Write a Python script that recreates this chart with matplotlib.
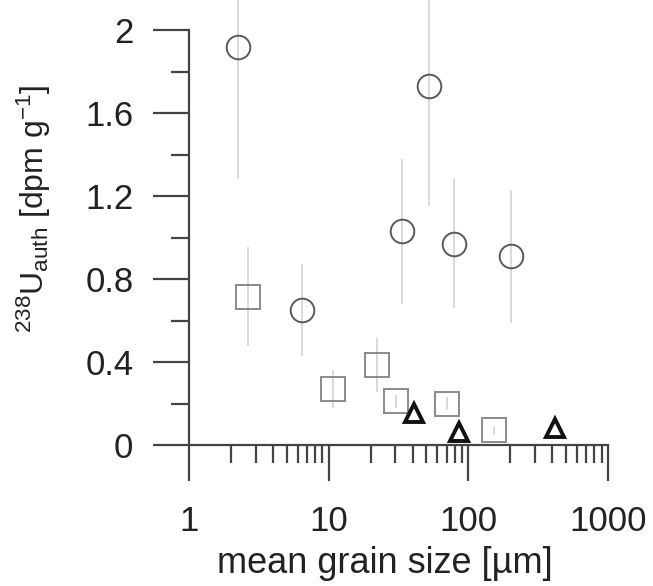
import matplotlib
matplotlib.use("Agg")
import matplotlib.pyplot as plt
from matplotlib.ticker import LogLocator, FixedLocator, NullFormatter

plt.rcParams["font.family"] = ["Liberation Sans", "DejaVu Sans"]
plt.rcParams["mathtext.fontset"] = "custom"
plt.rcParams["mathtext.rm"] = "Liberation Sans"
plt.rcParams["mathtext.it"] = "Liberation Sans:italic"

# circles
circ_x = [2.24, 52, 33.5, 78.9, 202, 6.44]
circ_y = [1.92, 1.73, 1.03, 0.97, 0.91, 0.65]
circ_err = [0.64, 0.58, 0.35, 0.31, 0.32, 0.22]

# squares
sq_x = [2.64, 10.7, 22.2, 30.3, 70.3, 152]
sq_y = [0.715, 0.27, 0.385, 0.21, 0.20, 0.07]
sq_err = [0.24, 0.09, 0.13, 0.03, 0.03, 0.02]

# triangles
tri_x = [40.8, 85.7, 417]
tri_y = [0.155, 0.063, 0.08]

fig = plt.figure(figsize=(6.53, 5.86), dpi=100)
ax = fig.add_axes([0.2894, 0.2406, 0.6417, 0.7082])

err_color = "#cfcfcf"
ax.errorbar(circ_x, circ_y, yerr=circ_err, fmt="none", ecolor=err_color,
            elinewidth=1.1, capsize=0, clip_on=False, zorder=1)
ax.errorbar(sq_x, sq_y, yerr=sq_err, fmt="none", ecolor=err_color,
            elinewidth=1.1, capsize=0, clip_on=False, zorder=1)

ax.plot(circ_x, circ_y, "o", ms=17, mfc="none", mec="#5a5a5a", mew=1.4,
        clip_on=False, zorder=3)
ax.plot(sq_x, sq_y, "s", ms=17, mfc="none", mec="#8a8a8a", mew=1.4,
        clip_on=False, zorder=3)
ax.plot(tri_x, tri_y, "^", ms=13, mfc="none", mec="#111111", mew=2.8,
        clip_on=False, zorder=4)

ax.set_xscale("log")
ax.set_xlim(1, 1000)
ax.set_ylim(0, 2)

ax.xaxis.set_major_locator(FixedLocator([1, 10, 100, 1000]))
ax.xaxis.set_minor_locator(LogLocator(base=10, subs=range(2, 10)))
ax.xaxis.set_minor_formatter(NullFormatter())
ax.set_xticklabels(["1", "10", "100", "1000"])
ax.set_yticks([0, 0.4, 0.8, 1.2, 1.6, 2.0])
ax.set_yticklabels(["0", "0.4", "0.8", "1.2", "1.6", "2"])
ax.set_yticks([0.2, 0.6, 1.0, 1.4, 1.8], minor=True)

for s in ["top", "right"]:
    ax.spines[s].set_visible(False)
for s in ["left", "bottom"]:
    ax.spines[s].set_linewidth(1.6)
    ax.spines[s].set_color("#444444")

ax.tick_params(which="major", direction="out", length=26, width=1.6,
               color="#444444", labelsize=25, labelcolor="#222222")
ax.tick_params(which="minor", direction="out", length=13, width=1.6,
               color="#444444")
ax.tick_params(axis="y", which="major", pad=14)
ax.tick_params(axis="x", which="major", pad=17)

ax.set_xlabel("mean grain size [µm]", fontsize=26, color="#222222")
ax.xaxis.set_label_coords(0.468, -0.243)
ax.set_ylabel(r"$^{238}$U$_{\rm auth}$ [dpm g$^{-1}$]", fontsize=23,
              color="#222222")
ax.yaxis.set_label_coords(-0.325, 0.569)

fig.savefig("out.png", dpi=100)
